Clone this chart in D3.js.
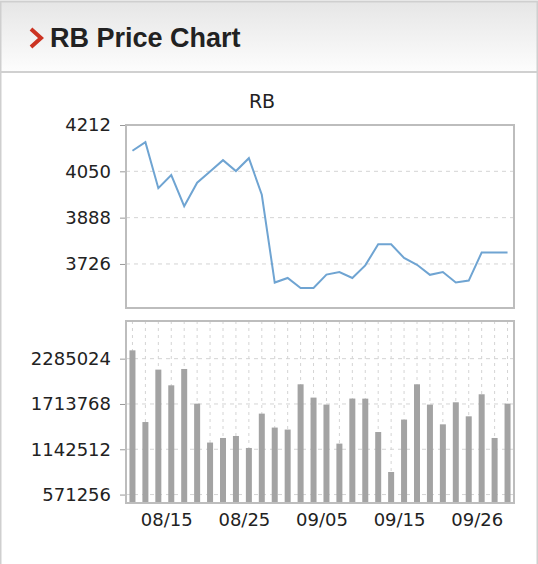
<!DOCTYPE html>
<html>
<head>
<meta charset="utf-8">
<script src="https://cdn.jsdelivr.net/npm/d3@7"></script>
<style>
  body { margin: 0; background: #fff; }
  text { font-family: "DejaVu Sans", sans-serif; }
</style>
</head>
<body>
<div id="wrapper"></div>
<script>
// data

const dates = [
  "08/12", "08/13", "08/14", "08/15", "08/18", "08/19", "08/20", "08/21", "08/22", "08/25",
  "08/26", "08/27", "08/28", "08/29", "09/04", "09/05", "09/08", "09/09", "09/10", "09/11",
  "09/12", "09/15", "09/16", "09/17", "09/18", "09/19", "09/25", "09/26", "09/29", "09/30"
];

const prices = [
  4122, 4152, 3991, 4037, 3928, 4010, 4049, 4089, 4051, 4096,
  3968, 3661, 3677, 3642, 3642, 3689, 3698, 3677, 3721, 3795,
  3795, 3747, 3723, 3688, 3698, 3661, 3668, 3766, 3766, 3766
];

const volumes = [
  2390000, 1486000, 2147000, 1949000, 2155000, 1718000, 1227000, 1285000, 1310000, 1159000,
  1592000, 1416000, 1391000, 1962000, 1794000, 1706000, 1214000, 1782000, 1781000, 1360000,
  856000, 1517000, 1962000, 1706000, 1457000, 1735000, 1558000, 1836000, 1285000, 1718000
];

const priceTicks = [4212, 4050, 3888, 3726];
const volumeTicks = [2285024, 1713768, 1142512, 571256];
const dateTicks = ["08/15", "08/25", "09/05", "09/15", "09/26"];

function drawChart() {

  // dimensions

  const dms = {
    width: 538,
    height: 564,
    headerHeight: 72,
    plotLeft: 126,
    plotRight: 514,
    priceTop: 125,
    priceBottom: 308,
    volumeTop: 321,
    volumeBottom: 503
  };

  const svg = d3.select("#wrapper")
    .append("svg")
      .attr("width", dms.width)
      .attr("height", dms.height);

  // header box

  const grad = svg.append("defs")
    .append("linearGradient")
      .attr("id", "headerGrad")
      .attr("x1", 0).attr("y1", 0)
      .attr("x2", 0).attr("y2", 1);
  grad.append("stop").attr("offset", "0%").attr("stop-color", "#e6e6e6");
  grad.append("stop").attr("offset", "100%").attr("stop-color", "#fdfdfd");

  svg.append("rect")
      .attr("x", 1).attr("y", 2)
      .attr("width", dms.width - 2)
      .attr("height", dms.headerHeight - 2)
      .attr("fill", "url(#headerGrad)");

  // outer borders
  svg.append("rect")
      .attr("x", 0.5).attr("y", 1.5)
      .attr("width", dms.width - 1)
      .attr("height", dms.height + 10)
      .attr("fill", "none")
      .attr("stroke", "#cfcfcf")
      .attr("stroke-width", 2);

  svg.append("line")
      .attr("x1", 0).attr("x2", dms.width)
      .attr("y1", dms.headerHeight).attr("y2", dms.headerHeight)
      .attr("stroke", "#d0d0d0")
      .attr("stroke-width", 2);

  svg.append("path")
      .attr("d", "M31,29 L41,38 L31,47")
      .attr("fill", "none")
      .attr("stroke", "#cc3322")
      .attr("stroke-width", 4);

  svg.append("text")
      .attr("x", 50)
      .attr("y", 47)
      .attr("font-family", "'Liberation Sans', Arial, sans-serif")
      .style("font-family", "'Liberation Sans', Arial, sans-serif")
      .attr("font-size", 27)
      .attr("font-weight", "bold")
      .attr("fill", "#222")
      .text("RB Price Chart");

  svg.append("text")
      .attr("x", 262)
      .attr("y", 108)
      .attr("text-anchor", "middle")
      .attr("font-size", 19)
      .attr("fill", "#222")
      .text("RB");

  // scales

  const xScale = d3.scalePoint()
    .domain(dates)
    .range([dms.plotLeft, dms.plotRight])
    .padding(0.5);

  const yPrice = d3.scaleLinear()
    .domain([3572, 4212])
    .range([dms.priceBottom, dms.priceTop]);

  const yVolume = d3.scaleLinear()
    .domain([465000, 2760000])
    .range([dms.volumeBottom, dms.volumeTop]);

  // price panel

  const pricePanel = svg.append("g");

  pricePanel.selectAll(".hgrid")
    .data(priceTicks)
    .join("line")
      .attr("x1", dms.plotLeft).attr("x2", dms.plotRight)
      .attr("y1", d => yPrice(d)).attr("y2", d => yPrice(d))
      .attr("stroke", "#d4d4d4")
      .attr("stroke-dasharray", "4,4");

  pricePanel.append("rect")
      .attr("x", dms.plotLeft)
      .attr("y", dms.priceTop)
      .attr("width", dms.plotRight - dms.plotLeft)
      .attr("height", dms.priceBottom - dms.priceTop)
      .attr("fill", "none")
      .attr("stroke", "#bdbdbd")
      .attr("stroke-width", 2);

  const lineGenerator = d3.line()
    .x((d, i) => xScale(dates[i]))
    .y(d => yPrice(d));

  pricePanel.append("path")
      .attr("d", lineGenerator(prices))
      .attr("fill", "none")
      .attr("stroke", "#6fa4d2")
      .attr("stroke-width", 2);

  const priceAxis = d3.axisLeft(yPrice)
    .tickValues(priceTicks)
    .tickSize(5)
    .tickPadding(9)
    .tickFormat(d3.format("d"));

  pricePanel.append("g")
      .attr("transform", `translate(${dms.plotLeft - 1},0)`)
      .call(priceAxis)
      .call(g => g.select(".domain").remove())
      .call(g => g.selectAll(".tick line").attr("stroke", "#999"))
      .call(g => g.selectAll(".tick text")
        .attr("fill", "#222")
        .attr("font-size", 18)
        .style("font-family", "'DejaVu Sans', sans-serif"));

  // volume panel

  const volumePanel = svg.append("g");

  volumePanel.selectAll(".vgrid")
    .data(dates)
    .join("line")
      .attr("x1", d => xScale(d)).attr("x2", d => xScale(d))
      .attr("y1", dms.volumeTop).attr("y2", dms.volumeBottom)
      .attr("stroke", "#d4d4d4")
      .attr("stroke-dasharray", "3,4");

  volumePanel.selectAll(".hgrid")
    .data(volumeTicks)
    .join("line")
      .attr("x1", dms.plotLeft).attr("x2", dms.plotRight)
      .attr("y1", d => yVolume(d)).attr("y2", d => yVolume(d))
      .attr("stroke", "#d4d4d4")
      .attr("stroke-dasharray", "4,4");

  const barWidth = 6;

  volumePanel.selectAll(".bar")
    .data(volumes)
    .join("rect")
      .attr("x", (d, i) => xScale(dates[i]) - barWidth / 2)
      .attr("y", d => yVolume(d))
      .attr("width", barWidth)
      .attr("height", d => dms.volumeBottom - yVolume(d))
      .attr("fill", "#a3a3a3");

  volumePanel.append("rect")
      .attr("x", dms.plotLeft)
      .attr("y", dms.volumeTop)
      .attr("width", dms.plotRight - dms.plotLeft)
      .attr("height", dms.volumeBottom - dms.volumeTop)
      .attr("fill", "none")
      .attr("stroke", "#bdbdbd")
      .attr("stroke-width", 2);

  const volumeAxis = d3.axisLeft(yVolume)
    .tickValues(volumeTicks)
    .tickSize(5)
    .tickPadding(9)
    .tickFormat(d3.format("d"));

  volumePanel.append("g")
      .attr("transform", `translate(${dms.plotLeft - 1},0)`)
      .call(volumeAxis)
      .call(g => g.select(".domain").remove())
      .call(g => g.selectAll(".tick line").attr("stroke", "#999"))
      .call(g => g.selectAll(".tick text")
        .attr("fill", "#222")
        .attr("font-size", 18)
        .style("font-family", "'DejaVu Sans', sans-serif"));

  // date labels, no tick marks in the original
  const dateAxis = d3.axisBottom(xScale)
    .tickValues(dateTicks)
    .tickSize(0)
    .tickPadding(10);

  volumePanel.append("g")
      .attr("transform", `translate(0,${dms.volumeBottom})`)
      .call(dateAxis)
      .call(g => g.select(".domain").remove())
      .call(g => g.selectAll(".tick text")
        .attr("dx", -5)
        .attr("fill", "#222")
        .attr("font-size", 18)
        .style("font-family", "'DejaVu Sans', sans-serif"));
}

drawChart();
</script>
</body>
</html>
